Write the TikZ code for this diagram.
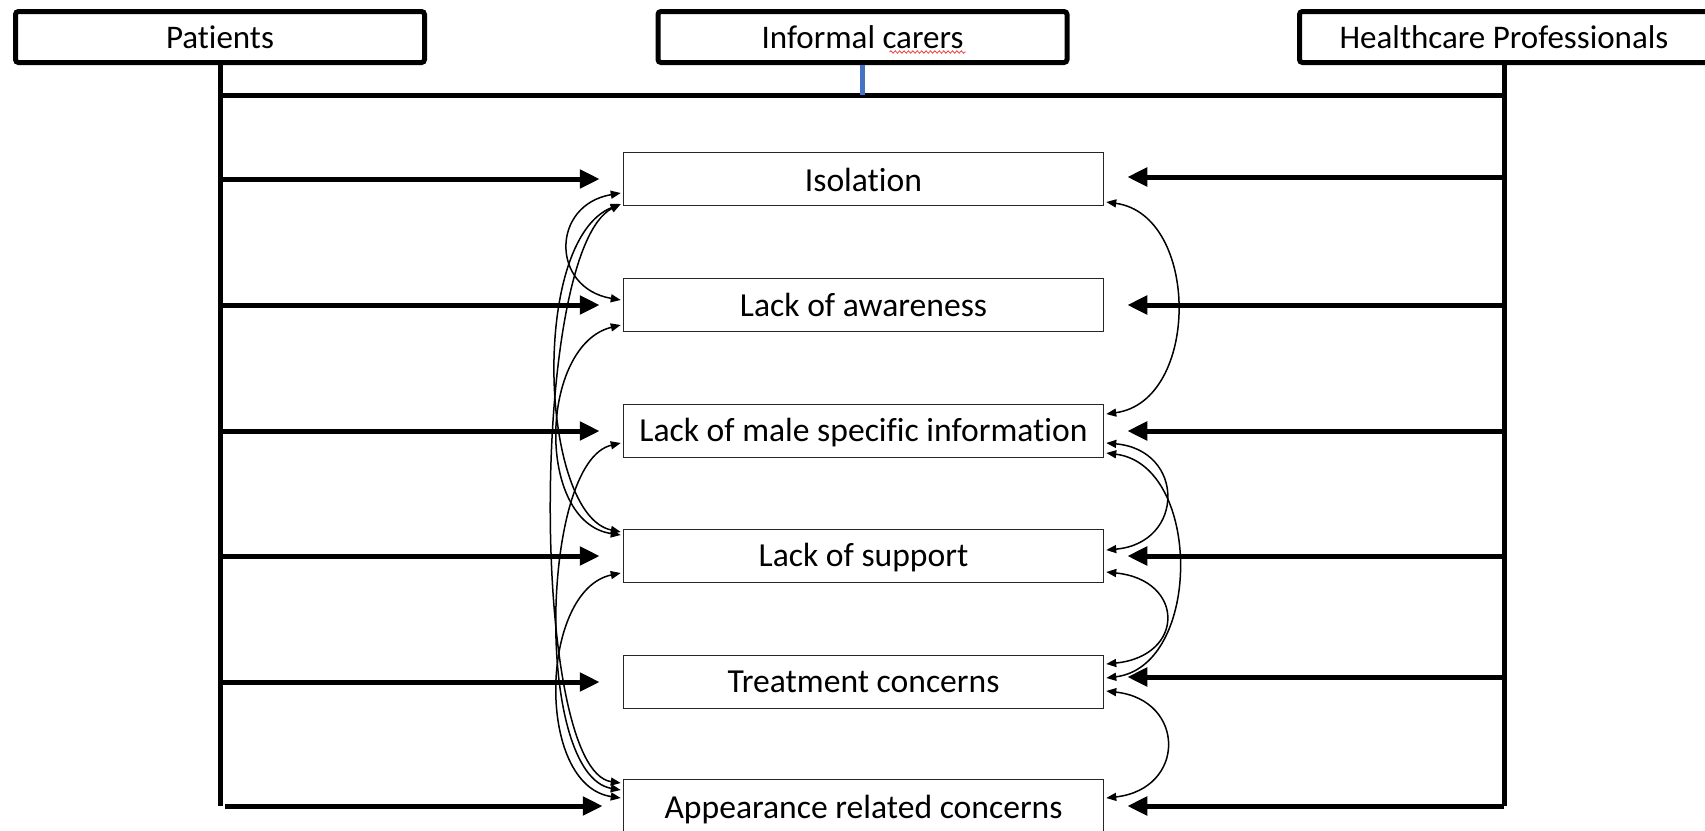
\documentclass[tikz,border=0pt]{standalone}
\usepackage{fontspec}
\setmainfont{Carlito}[Ligatures={NoCommon,NoContextual}]
\usetikzlibrary{arrows.meta,calc,decorations.pathmorphing}
\definecolor{tickblue}{HTML}{4472C4}
\definecolor{spellred}{HTML}{E8463A}
\begin{document}
\begin{tikzpicture}[x=0.5pt,y=-0.5pt,
  groupbox/.style={draw,line width=2.5pt,rounded corners=1.5pt,minimum width=204.5pt,
    minimum height=25.5pt,inner sep=0pt,font=\fontsize{16.5}{19}\selectfont},
  themebox/.style={draw=black!85,line width=0.75pt,fill=white,minimum width=240pt,
    minimum height=26.5pt,inner sep=0pt,font=\fontsize{16.8}{20}\selectfont},
  bus/.style={line width=2.5pt},
  feed/.style={line width=2.5pt,-{Triangle[length=10pt,width=9pt]}},
  link/.style={line width=0.75pt,
    {Triangle[length=5pt,width=4pt]}-{Triangle[length=5pt,width=4pt]}},
]
\useasboundingbox (0,0) rectangle (1705,831);
\clip (0,0) rectangle (1705,831);

% stakeholder groups
\node[groupbox] (pat) at (220,37) {Patients};
\node[groupbox] (car) at (862.5,37) {Informal carers};
\node[groupbox] (hcp) at (1504,37) {Healthcare Professionals};

% spell-check mark under "carers"
\draw[spellred,line width=0.4pt,decorate,decoration={snake,amplitude=0.6pt,segment length=2.2pt}]
  ($(car.center)+(27,15)$) -- ($(car.center)+(103,15)$);

% themes
\node[themebox] (iso) at (863.5,179) {\raisebox{-0.6pt}[\height][\depth]{Isolation}};
\node[themebox] (awa) at (863.5,305) {Lack of awareness};
\node[themebox] (mal) at (863.5,431) {\raisebox{-0.8pt}[\height][\depth]{Lack of male specific information}};
\node[themebox] (sup) at (863.5,556) {\raisebox{-0.8pt}[\height][\depth]{Lack of support}};
\node[themebox] (tre) at (863.5,682) {Treatment concerns};
\node[themebox] (app) at (863.5,806) {\raisebox{-1.6pt}[\height][\depth]{Appearance related concerns}};

% bus lines from the groups
\coordinate (busL) at ($(pat.south)+(0,30)$);
\draw[bus] (pat.south) -- (pat.south |- app.west);
\draw[bus] (hcp.south) -- (hcp.south |- app.east);
\draw[bus] (busL) -- (hcp.south |- busL);
\draw[tickblue,line width=2.6pt] (car.south) -- (car.south |- busL);

% feeds from patients
\draw[feed] (pat.south |- iso.west) -- ([xshift=-11.5pt]iso.west);
\draw[feed] (pat.south |- awa.west) -- ([xshift=-11.5pt]awa.west);
\draw[feed] (pat.south |- mal.west) -- ([xshift=-11.5pt]mal.west);
\draw[feed] (pat.south |- sup.west) -- ([xshift=-11.5pt]sup.west);
\draw[feed] (pat.south |- tre.west) -- ([xshift=-11.5pt]tre.west);
\draw[feed] ($(pat.south |- app.west)+(5,0)$) -- ([xshift=-10pt]app.west);

% feeds from healthcare professionals
\draw[feed] ([yshift=1pt]hcp.south |- iso.east) -- ([xshift=11.5pt,yshift=1pt]iso.east);
\draw[feed] (hcp.south |- awa.east) -- ([xshift=11.5pt]awa.east);
\draw[feed] (hcp.south |- mal.east) -- ([xshift=11.5pt]mal.east);
\draw[feed] (hcp.south |- sup.east) -- ([xshift=11.5pt]sup.east);
\draw[feed] ([yshift=2.5pt]hcp.south |- tre.east) -- ([xshift=11.5pt,yshift=2.5pt]tre.east);
\draw[feed] (hcp.south |- app.east) -- ([xshift=11.5pt]app.east);

% ports on the left edges
\coordinate (isoL1) at ([xshift=-1pt,yshift=-7pt]iso.west);
\coordinate (isoL2) at ([xshift=-1pt,yshift=-12.5pt]iso.west);
\coordinate (awaL1) at ([xshift=-1pt,yshift=2.5pt]awa.west);
\coordinate (awaL2) at ([xshift=-1pt,yshift=-10pt]awa.west);
\coordinate (malL)  at ([xshift=-1pt,yshift=-6pt]mal.west);
\coordinate (supL1) at ([xshift=-1pt,yshift=12pt]sup.west);
\coordinate (supL2) at ([xshift=-1pt,yshift=10.5pt]sup.west);
\coordinate (supL3) at ([xshift=-1pt,yshift=-8.5pt]sup.west);
\coordinate (appL1) at ([xshift=-1pt,yshift=11.5pt]app.west);
\coordinate (appL2) at ([xshift=-1pt,yshift=8pt]app.west);
\coordinate (appL3) at ([xshift=-1pt,yshift=4pt]app.west);

% ports on the right edges
\coordinate (isoR)  at ([xshift=1pt,yshift=-11.5pt]iso.east);
\coordinate (malR1) at ([xshift=1pt,yshift=8.5pt]mal.east);
\coordinate (malR2) at ([xshift=1pt,yshift=-6pt]mal.east);
\coordinate (malR3) at ([xshift=1pt,yshift=-11pt]mal.east);
\coordinate (supR1) at ([xshift=1pt,yshift=3pt]sup.east);
\coordinate (supR2) at ([xshift=1pt,yshift=-8pt]sup.east);
\coordinate (treR1) at ([xshift=1pt,yshift=9pt]tre.east);
\coordinate (treR2) at ([xshift=1pt,yshift=2pt]tre.east);
\coordinate (treR3) at ([xshift=1pt,yshift=-4.5pt]tre.east);
\coordinate (appR)  at ([xshift=1pt,yshift=4pt]app.east);

% links between themes, left side
\draw[link] (isoL1) .. controls +(-70,12) and +(-70,-12) .. (awaL1);
\draw[link] (isoL2) .. controls +(-91,36) and +(-81,-17) .. (supL1);
\draw[link] (isoL2) .. controls +(-91,46) and +(-91,-13) .. (appL1);
\draw[link] (awaL2) .. controls +(-81,20) and +(-86,-13) .. (supL2);
\draw[link] (malL)  .. controls +(-81,19) and +(-86,-15) .. (appL2);
\draw[link] (supL3) .. controls +(-81,17) and +(-86,-13) .. (appL3);

% links between themes, right side
\draw[link] (isoR)  .. controls +(94,13) and +(94,-13) .. (malR1);
\draw[link] (malR2) .. controls +(79,7)  and +(79,-7)  .. (supR1);
\draw[link] (malR3) .. controls +(96,12) and +(96,-12) .. (treR2);
\draw[link] (supR2) .. controls +(79,8)  and +(79,-8)  .. (treR1);
\draw[link] (treR3) .. controls +(80,9)  and +(80,-9)  .. (appR);
\end{tikzpicture}
\end{document}
